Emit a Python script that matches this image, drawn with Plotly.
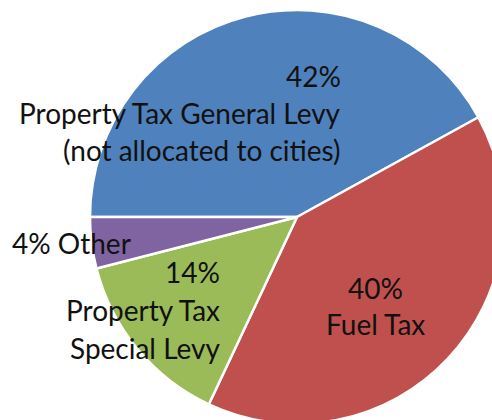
import plotly.graph_objects as go

labels = ["Property Tax General Levy (not allocated to cities)", "Fuel Tax",
          "Property Tax Special Levy", "Other"]
values = [42, 40, 14, 4]
colors = ["#4F81BD", "#C0504D", "#9BBB59", "#8064A2"]
label_lines = [["Property Tax General Levy", "(not allocated to cities)"],
               ["Fuel Tax"],
               ["Property Tax", "Special Levy"],
               ["Other"]]

W, H = 504, 424
ML, MT = 90, 10
PW = W - ML
PH = H - MT

def px(x):
    return (x - ML) / PW

def py(y):
    return 1 - (y - MT) / PH

fig = go.Figure(go.Pie(
    labels=labels, values=values, sort=False, direction="clockwise",
    rotation=270, textinfo="none",
    marker=dict(colors=colors, line=dict(color="white", width=2.5)),
    showlegend=False,
))

font = dict(family="Lato, 'Open Sans', sans-serif", size=28, color="#111111")
ann = []
# label blocks: (anchor x, xanchor, first line y, line spacing, inline percent)
blocks = [
    (343, "right", 76, 37, False),
    (375, "center", 288, 36, False),
    (222, "right", 272, 38, False),
    (10, "left", 243, 0, True),
]
for i, (ax, xa, y0, dy, inline) in enumerate(blocks):
    pct = f"{values[i]}%"
    if inline:
        lines = [pct + " " + label_lines[i][0]]
    else:
        lines = [pct] + label_lines[i]
    for k, t in enumerate(lines):
        ann.append(dict(text=t, x=px(ax), y=py(y0 + k * dy), xref="paper", yref="paper",
                        xanchor=xa, yanchor="middle", showarrow=False, font=font))

fig.update_layout(
    width=W, height=H, autosize=False,
    margin=dict(l=ML, r=0, t=MT, b=0, pad=0),
    paper_bgcolor="white", plot_bgcolor="white",
    annotations=ann,
)

fig.write_html("out.html",
               post_script="document.body.style.overflow='hidden';document.documentElement.style.overflow='hidden';")
